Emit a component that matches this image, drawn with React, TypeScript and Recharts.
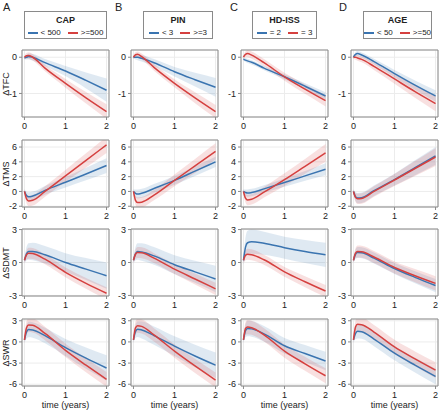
import React from "react";
import { ComposedChart, Line, Area, XAxis, YAxis, CartesianGrid, ReferenceArea } from "recharts";

// shared time grid (years)
const TIME = [0, 0.05, 0.1, 0.2, 0.5, 1, 1.5, 2];

const GROUPS = ["CAP", "PIN", "HD-ISS", "AGE"];
const LETTERS = ["A", "B", "C", "D"];
const LOW_LABELS = ["< 500", "< 3", "= 2", "< 50"];
const HIGH_LABELS = [">=500", ">=3", "= 3", ">=50"];
const OUTCOMES = ["ΔTFC", "ΔTMS", "ΔSDMT", "ΔSWR"];
const Y_DOMAINS = [[-1.65, 0.2], [-2.1, 6.95], [-3.05, 3.05], [-6.25, 3.25]];
const Y_TICKS = [[-1, 0], [-2, 0, 2, 4, 6], [-3, 0, 3], [-6, -3, 0, 3]];
const X_TICKS = [0, 1, 2];

// mean trajectories, one row per panel column (CAP, PIN, HD-ISS, AGE)
const TFC_LOW = [
  [-0.02, 0.0, 0.02, 0.0, -0.15, -0.38, -0.64, -0.91],
  [0.0, 0.0, 0.0, -0.03, -0.15, -0.4, -0.62, -0.83],
  [-0.05, -0.08, -0.1, -0.14, -0.3, -0.54, -0.8, -1.07],
  [0.0, 0.08, 0.1, 0.06, -0.12, -0.45, -0.77, -1.07],
];
const TFC_HIGH = [
  [0.0, 0.04, 0.05, 0.0, -0.3, -0.72, -1.12, -1.5],
  [0.0, 0.07, 0.08, 0.02, -0.28, -0.72, -1.12, -1.5],
  [0.0, 0.08, 0.1, 0.06, -0.15, -0.54, -0.88, -1.2],
  [0.0, 0.0, -0.02, -0.06, -0.25, -0.6, -0.95, -1.28],
];
const TMS_LOW = [
  [0.0, -0.55, -0.72, -0.62, 0.15, 1.25, 2.35, 3.5],
  [0.0, -0.25, -0.35, -0.25, 0.4, 1.5, 2.75, 4.0],
  [0.0, -0.15, -0.22, -0.15, 0.35, 1.2, 2.1, 3.0],
  [0.0, -0.7, -0.9, -0.85, 0.1, 1.6, 3.2, 4.8],
];
const TMS_HIGH = [
  [0.0, -1.0, -1.28, -1.2, 0.0, 2.1, 4.2, 6.3],
  [0.0, -1.2, -1.5, -1.45, -0.5, 1.5, 3.45, 5.4],
  [0.0, -0.9, -1.15, -1.05, -0.1, 1.6, 3.4, 5.2],
  [0.0, -0.8, -1.0, -0.95, 0.0, 1.55, 3.1, 4.65],
];
const SDMT_LOW = [
  [0.2, 0.8, 1.0, 1.0, 0.7, 0.0, -0.6, -1.2],
  [0.2, 0.8, 1.0, 0.95, 0.6, -0.2, -0.85, -1.5],
  [0.2, 1.4, 1.8, 1.9, 1.75, 1.35, 1.0, 0.7],
  [0.2, 0.75, 0.9, 0.88, 0.4, -0.55, -1.35, -2.1],
];
const SDMT_HIGH = [
  [0.2, 0.7, 0.85, 0.82, 0.3, -0.9, -1.9, -2.8],
  [0.2, 0.75, 0.9, 0.88, 0.4, -0.6, -1.5, -2.4],
  [0.2, 0.65, 0.75, 0.7, 0.25, -0.85, -1.75, -2.6],
  [0.2, 0.85, 1.0, 0.98, 0.5, -0.45, -1.2, -1.9],
];
const SWR_LOW = [
  [0.3, 1.4, 1.75, 1.7, 0.9, -0.8, -2.3, -3.7],
  [0.3, 1.5, 1.8, 1.7, 0.9, -0.6, -2.0, -3.3],
  [0.3, 1.6, 1.9, 1.85, 1.15, -0.55, -1.65, -2.7],
  [0.3, 1.2, 1.5, 1.45, 0.4, -1.6, -3.3, -4.9],
];
const SWR_HIGH = [
  [0.3, 2.0, 2.4, 2.35, 1.2, -1.2, -3.3, -5.3],
  [0.3, 2.0, 2.3, 2.2, 1.0, -1.3, -3.4, -5.4],
  [0.3, 1.9, 2.1, 2.0, 1.0, -1.3, -3.1, -4.8],
  [0.3, 2.1, 2.5, 2.45, 1.4, -0.7, -2.4, -4.0],
];

// confidence band half-widths
const TFC_LOW_CI = [
  [0.04, 0.06, 0.08, 0.09, 0.1, 0.14, 0.22, 0.32],
  [0.04, 0.06, 0.08, 0.09, 0.1, 0.13, 0.19, 0.26],
  [0.04, 0.05, 0.06, 0.06, 0.06, 0.07, 0.08, 0.1],
  [0.04, 0.06, 0.07, 0.07, 0.08, 0.1, 0.13, 0.16],
];
const TFC_HIGH_CI = [
  [0.05, 0.08, 0.09, 0.09, 0.09, 0.12, 0.16, 0.2],
  [0.05, 0.07, 0.08, 0.08, 0.09, 0.11, 0.15, 0.18],
  [0.05, 0.08, 0.1, 0.1, 0.1, 0.11, 0.13, 0.16],
  [0.05, 0.07, 0.08, 0.08, 0.1, 0.13, 0.17, 0.21],
];
const TMS_LOW_CI = [
  [0.3, 0.5, 0.6, 0.6, 0.6, 0.7, 0.85, 1.0],
  [0.3, 0.5, 0.6, 0.6, 0.6, 0.6, 0.65, 0.7],
  [0.3, 0.4, 0.5, 0.5, 0.5, 0.55, 0.65, 0.8],
  [0.3, 0.6, 0.7, 0.7, 0.7, 0.8, 1.0, 1.2],
];
const TMS_HIGH_CI = [
  [0.3, 0.6, 0.7, 0.7, 0.7, 0.8, 0.95, 1.1],
  [0.3, 0.6, 0.7, 0.7, 0.7, 0.8, 0.95, 1.1],
  [0.3, 0.6, 0.7, 0.7, 0.7, 0.85, 1.0, 1.2],
  [0.3, 0.6, 0.7, 0.7, 0.7, 0.8, 1.0, 1.2],
];
const SDMT_LOW_CI = [
  [0.3, 0.6, 0.75, 0.8, 0.8, 0.85, 1.0, 1.2],
  [0.3, 0.6, 0.75, 0.8, 0.8, 0.85, 1.0, 1.2],
  [0.4, 0.9, 1.1, 1.1, 1.05, 1.0, 1.05, 1.1],
  [0.3, 0.4, 0.5, 0.5, 0.5, 0.5, 0.55, 0.6],
];
const SDMT_HIGH_CI = [
  [0.3, 0.4, 0.5, 0.5, 0.45, 0.45, 0.5, 0.55],
  [0.3, 0.4, 0.5, 0.5, 0.45, 0.45, 0.5, 0.55],
  [0.3, 0.45, 0.5, 0.5, 0.45, 0.45, 0.5, 0.55],
  [0.3, 0.45, 0.55, 0.55, 0.55, 0.55, 0.6, 0.65],
];
const SWR_LOW_CI = [
  [0.5, 0.9, 1.1, 1.1, 1.1, 1.2, 1.5, 1.8],
  [0.5, 0.9, 1.1, 1.2, 1.3, 1.4, 1.6, 1.8],
  [0.5, 0.9, 1.1, 1.1, 1.1, 1.1, 1.2, 1.3],
  [0.5, 0.8, 1.0, 1.0, 1.0, 1.0, 1.05, 1.1],
];
const SWR_HIGH_CI = [
  [0.5, 0.9, 1.0, 1.0, 0.95, 0.95, 1.0, 1.05],
  [0.5, 0.9, 1.0, 1.0, 0.95, 0.95, 1.0, 1.05],
  [0.5, 0.9, 1.0, 1.0, 0.95, 0.95, 1.0, 1.05],
  [0.5, 0.9, 1.05, 1.05, 1.0, 1.0, 1.05, 1.1],
];

const MEANS = [
  [TFC_LOW, TFC_HIGH],
  [TMS_LOW, TMS_HIGH],
  [SDMT_LOW, SDMT_HIGH],
  [SWR_LOW, SWR_HIGH],
];
const CIS = [
  [TFC_LOW_CI, TFC_HIGH_CI],
  [TMS_LOW_CI, TMS_HIGH_CI],
  [SDMT_LOW_CI, SDMT_HIGH_CI],
  [SWR_LOW_CI, SWR_HIGH_CI],
];

const BLUE = "#3a74b0";
const RED = "#d5403f";
const FONT = "'Liberation Sans', Arial, Helvetica, sans-serif";
const TEXT = "#222";
const FRAME = "#8a8a8a";

const COL_LEFT = [22, 131, 241, 351];
const ROW_TOP = [50, 140, 229, 319];
const PLOT_W = 87;
const PLOT_H = 67;
const Y_AXIS_W = 22;
const X_DOMAIN = [-0.06, 2.06];

const LEGEND_BOX = [
  [24, 83],
  [143, 70],
  [252, 65],
  [363, 69],
];
const LETTER_X = [3, 115, 230, 339];

function Panel({ row, col }: { row: number; col: number }) {
  const lo = MEANS[row][0][col];
  const hi = MEANS[row][1][col];
  const loCi = CIS[row][0][col];
  const hiCi = CIS[row][1][col];
  const data = TIME.map((t, i) => ({
    t,
    lo: lo[i],
    hi: hi[i],
    loBand: [lo[i] - loCi[i], lo[i] + loCi[i]],
    hiBand: [hi[i] - hiCi[i], hi[i] + hiCi[i]],
  }));
  const dom = Y_DOMAINS[row];
  const tick = { fontSize: 9, fill: TEXT, fontFamily: FONT };
  return (
    <div
      style={{
        position: "absolute",
        left: COL_LEFT[col] - Y_AXIS_W,
        top: ROW_TOP[row] - 4,
      }}
    >
      <ComposedChart
        width={Y_AXIS_W + PLOT_W + 2}
        height={4 + PLOT_H + 16}
        data={data}
        margin={{ top: 4, right: 2, bottom: 0, left: 0 }}
      >
        <CartesianGrid stroke="#ececec" strokeWidth={1} />
        <XAxis
          dataKey="t"
          type="number"
          domain={X_DOMAIN}
          ticks={X_TICKS}
          allowDataOverflow
          height={16}
          tickSize={3}
          tickMargin={3}
          axisLine={false}
          tickLine={{ stroke: FRAME }}
          tick={tick}
          interval={0}
        />
        <YAxis
          type="number"
          domain={dom}
          ticks={Y_TICKS[row]}
          allowDataOverflow
          width={Y_AXIS_W}
          tickSize={3}
          tickMargin={2}
          axisLine={false}
          tickLine={{ stroke: FRAME }}
          tick={tick}
          interval={0}
        />
        <Area
          dataKey="loBand"
          type="monotone"
          stroke="none"
          fill={BLUE}
          fillOpacity={0.16}
          isAnimationActive={false}
        />
        <Area
          dataKey="hiBand"
          type="monotone"
          stroke="none"
          fill={RED}
          fillOpacity={0.16}
          isAnimationActive={false}
        />
        <Line dataKey="lo" type="monotone" stroke={BLUE} strokeWidth={1.5} dot={false} isAnimationActive={false} />
        <Line dataKey="hi" type="monotone" stroke={RED} strokeWidth={1.5} dot={false} isAnimationActive={false} />
        <ReferenceArea
          x1={X_DOMAIN[0]}
          x2={X_DOMAIN[1]}
          y1={dom[0]}
          y2={dom[1]}
          fill="none"
          stroke={FRAME}
          strokeWidth={1}
          ifOverflow="visible"
        />
      </ComposedChart>
    </div>
  );
}

function LegendBox({ col }: { col: number }) {
  const [left, width] = LEGEND_BOX[col];
  const item = (color: string, label: string) => (
    <div style={{ display: "flex", alignItems: "center", gap: 3, whiteSpace: "nowrap" }}>
      <div style={{ width: 10, height: 2, background: color, flexShrink: 0 }} />
      <span>{label}</span>
    </div>
  );
  return (
    <div
      style={{
        position: "absolute",
        left,
        top: 11,
        width,
        height: 28,
        border: `1px solid ${FRAME}`,
        fontFamily: FONT,
        fontSize: 8,
        color: TEXT,
        boxSizing: "border-box",
      }}
    >
      <div style={{ textAlign: "center", fontWeight: "bold", fontSize: 9, marginTop: 3 }}>{GROUPS[col]}</div>
      <div style={{ display: "flex", justifyContent: "center", gap: 7, marginTop: 3, whiteSpace: "nowrap" }}>
        {item(BLUE, LOW_LABELS[col])}
        {item(RED, HIGH_LABELS[col])}
      </div>
    </div>
  );
}

export default function App() {
  return (
    <div
      style={{
        position: "absolute",
        left: 0,
        top: 0,
        width: 440,
        height: 411,
        background: "#fff",
        fontFamily: FONT,
        color: TEXT,
      }}
    >
      {LETTERS.map((l, c) => (
        <div key={l} style={{ position: "absolute", left: LETTER_X[c], top: 1, fontSize: 11 }}>
          {l}
        </div>
      ))}
      {GROUPS.map((g, c) => (
        <LegendBox key={g} col={c} />
      ))}
      {OUTCOMES.map((o, r) => (
        <div
          key={o}
          style={{
            position: "absolute",
            left: 6,
            top: ROW_TOP[r] + PLOT_H / 2,
            transform: "translate(-50%, -50%) rotate(-90deg)",
            fontSize: 9,
            whiteSpace: "nowrap",
          }}
        >
          {o}
        </div>
      ))}
      {OUTCOMES.map((o, r) => GROUPS.map((g, c) => <Panel key={o + g} row={r} col={c} />))}
      {GROUPS.map((g, c) => (
        <div
          key={"x" + g}
          style={{
            position: "absolute",
            left: COL_LEFT[c],
            width: PLOT_W,
            top: 400,
            textAlign: "center",
            fontSize: 9,
          }}
        >
          time (years)
        </div>
      ))}
    </div>
  );
}
